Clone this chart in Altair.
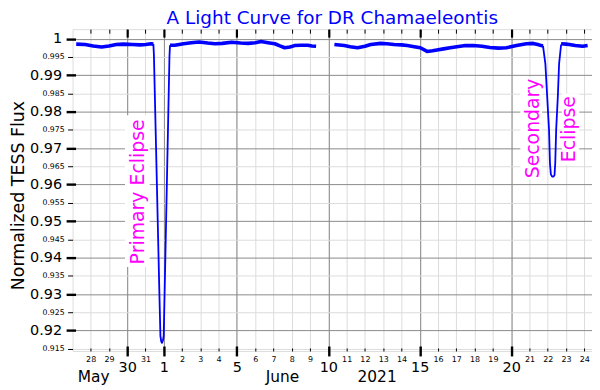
import altair as alt
import pandas as pd

# ---------------- data (day: days counted from 31 May 2021, so 1 = 1 June) -------------
pre_days = [-3.79, -3.3, -2.86, -2.4, -2.0, -1.6, -1.2, -0.7, -0.3, 0.02, 0.3, 0.43]
pre_flux = [0.9985, 0.9984, 0.9980, 0.9977, 0.9980, 0.9984, 0.9985, 0.9984, 0.9983, 0.9984, 0.9986, 0.9985]

prim_days = [0.43, 0.46, 0.55, 0.65, 0.75, 0.815, 0.86, 0.90, 0.95, 0.995, 1.08, 1.16, 1.24, 1.31, 1.34]
prim_flux = [0.9985, 0.9955, 0.9759, 0.9540, 0.9321, 0.9185, 0.9170, 0.9166, 0.9172, 0.9185, 0.9387, 0.9583, 0.9779, 0.9951, 0.9982]

mid_days = [1.34, 1.6, 2.08, 2.5, 2.93, 3.4, 3.8, 4.2, 4.71, 5.2, 5.61, 6.0, 6.32, 6.7,
            7.07, 7.35, 7.61, 7.9, 8.15, 8.5, 8.88, 9.1, 9.33]
mid_flux = [0.9982, 0.9982, 0.9986, 0.9989, 0.9991, 0.9988, 0.9986, 0.9987, 0.9990, 0.9988, 0.9987, 0.9989,
            0.9992, 0.9989, 0.9986, 0.9980, 0.9975, 0.9977, 0.9981, 0.9982, 0.9982, 0.9980, 0.9979]

late_days = [10.33, 10.87, 11.2, 11.6, 12.0, 12.32, 12.86, 13.2, 13.59, 14.0, 14.32, 14.7, 15.03, 15.4,
             15.7, 15.94, 16.3, 16.66, 17.03, 17.5, 17.93, 18.4, 18.84, 19.3, 19.74, 20.29, 20.83,
             21.2, 21.45, 21.65, 21.74]
late_flux = [0.9984, 0.9981, 0.9978, 0.9975, 0.9979, 0.9984, 0.9987, 0.9986, 0.9984, 0.9983, 0.9981, 0.9978,
             0.9975, 0.9965, 0.9967, 0.9969, 0.9972, 0.9975, 0.9978, 0.9981, 0.9981, 0.9979, 0.9976, 0.9974,
             0.9975, 0.9981, 0.9986, 0.9987, 0.9984, 0.9981, 0.9980]

sec_days = [21.74, 21.87, 21.97, 22.07, 22.12, 22.17, 22.24, 22.32, 22.37, 22.41, 22.46, 22.55, 22.62, 22.73]
sec_flux = [0.9980, 0.9931, 0.9840, 0.9750, 0.9659, 0.9628, 0.9622, 0.9622, 0.9626, 0.9659, 0.9750, 0.9840, 0.9931, 0.9984]

post_days = [22.73, 23.0, 23.18, 23.5, 23.91, 24.18]
post_flux = [0.9986, 0.9985, 0.9984, 0.9981, 0.9979, 0.9981]

minor_days = list(range(-3, 25))
major_days = [-1, 1, 5, 10, 15, 20]
month_names = ["May", "June", "2021"]
month_pos = [-2.86, 7.46, 12.64]

y_major = [0.92, 0.93, 0.94, 0.95, 0.96, 0.97, 0.98, 0.99, 1.0]
y_minor = [0.915, 0.925, 0.935, 0.945, 0.955, 0.965, 0.975, 0.985, 0.995]

notes = ["Primary Eclipse", "Secondary", "Eclipse"]
note_day = [-0.43, 21.20, 23.14]
note_flux = [0.9580, 0.9754, 0.9752]
box_d1 = [-1.12, 20.50, 22.77]
box_d2 = [0.23, 21.68, 23.72]
box_f1 = [0.9374, 0.9614, 0.9654]
box_f2 = [0.9790, 0.9895, 0.9850]

# ---------------- tables ----------------
def seg(name, d, f):
    return pd.DataFrame({"day": d, "flux": f, "segment": name})

base_df = pd.concat([seg("pre", pre_days, pre_flux), seg("mid", mid_days, mid_flux),
                     seg("late", late_days, late_flux), seg("post", post_days, post_flux)])
ecl_df = pd.concat([seg("prim", prim_days, prim_flux), seg("sec", sec_days, sec_flux)])
note_df = pd.DataFrame({"text": notes, "day": note_day, "flux": note_flux})
box_df = pd.DataFrame({"d1": box_d1, "d2": box_d2, "f1": box_f1, "f2": box_f2})
anchor = pd.DataFrame({"day": [5.0], "flux": [0.99]})

FONT = "DejaVu Sans"
xs = alt.Scale(domain=[-3.99, 24.42], nice=False, zero=False)
ys = alt.Scale(domain=[0.9144, 1.0026], nice=False, zero=False)
dom = "datum.value <= 0 ? datum.value + 31 : datum.value"
major_str = "[" + ",".join(str(v) for v in major_days) + "]"
month_expr = "".join(
    f"abs(datum.value - ({p})) < 0.01 ? '{n}' : " for p, n in zip(month_pos, month_names)) + "''"

LIGHT = "#dcdcdc"
DARK = "#8a8a8a"


def xaxis(**kw):
    base = dict(title=None, domain=False, labelFlush=False, labelOverlap=False,
                labelFont=FONT, labelColor="black", tickColor="black", grid=False)
    base.update(kw)
    return alt.Axis(**base)


def yaxis(**kw):
    base = dict(title=None, domain=False, labelFlush=False, labelOverlap=False,
                labelFont=FONT, labelColor="black", tickColor="black", grid=False, orient="left")
    base.update(kw)
    return alt.Axis(**base)


x_axes = [
    xaxis(orient="bottom", values=minor_days, grid=True, gridColor=LIGHT, gridWidth=1, ticks=False,
          labelFontSize=8, labelPadding=5,
          labelExpr=f"indexof({major_str}, datum.value) >= 0 ? '' : ({dom})"),
    xaxis(orient="bottom", values=major_days, grid=True, gridColor=DARK, gridWidth=1, ticks=False,
          labelFontSize=14.5, labelPadding=9.5, labelExpr=dom),
    xaxis(orient="bottom", values=month_pos, ticks=False, labelFontSize=15.5, labelPadding=19,
          labelExpr=month_expr),
    xaxis(orient="bottom", values=minor_days, labels=False, offset=-3, tickSize=3, tickWidth=1),
    xaxis(orient="bottom", values=major_days, labels=False, offset=-5, tickSize=10, tickWidth=2.4),
    xaxis(orient="top", values=minor_days, labels=False, offset=-4, tickSize=4, tickWidth=1),
    xaxis(orient="top", values=major_days, labels=False, offset=-8, tickSize=8, tickWidth=2.2),
]
y_axes = [
    yaxis(values=y_minor, grid=True, gridColor=LIGHT, gridWidth=1, ticks=False, format=".3f",
          labelFontSize=7.8, labelPadding=8.5),
    yaxis(values=y_major, grid=True, gridColor=DARK, gridWidth=1, ticks=False, format="~g",
          labelFontSize=14.5, labelPadding=11,
          title="Normalized TESS Flux", titleFont=FONT, titleFontSize=17.5, titleFontWeight="normal",
          titleColor="black", titleAngle=270, titleX=-54, titleY=167, titleAlign="center",
          titleBaseline="middle"),
    yaxis(values=y_minor, labels=False, tickSize=5, tickWidth=1),
    yaxis(values=y_major, labels=False, offset=-3, tickSize=9.5, tickWidth=2.4),
]

layers = []
for i, ax in enumerate(x_axes):
    yax = y_axes[i] if i < len(y_axes) else None
    layers.append(
        alt.Chart(anchor).mark_point(opacity=0).encode(
            x=alt.X("day:Q", scale=xs, axis=ax),
            y=alt.Y("flux:Q", scale=ys, axis=yax),
        )
    )

boxes = alt.Chart(box_df).mark_rect(color="white").encode(
    x=alt.X("d1:Q", scale=xs, axis=None), x2="d2:Q",
    y=alt.Y("f1:Q", scale=ys, axis=None), y2="f2:Q",
)
base_line = alt.Chart(base_df).mark_line(color="#0000ff", strokeWidth=3.6, strokeJoin="round").encode(
    x=alt.X("day:Q", scale=xs, axis=None), y=alt.Y("flux:Q", scale=ys, axis=None), detail="segment:N",
)
ecl_line = alt.Chart(ecl_df).mark_line(color="#0000ff", strokeWidth=1.8, strokeJoin="round").encode(
    x=alt.X("day:Q", scale=xs, axis=None), y=alt.Y("flux:Q", scale=ys, axis=None), detail="segment:N",
)
texts = alt.Chart(note_df).mark_text(angle=270, fontSize=19, font=FONT, color="#ff00ff",
                                     align="center", baseline="middle").encode(
    x=alt.X("day:Q", scale=xs, axis=None), y=alt.Y("flux:Q", scale=ys, axis=None), text="text:N",
)

chart = alt.layer(*layers, boxes, base_line, ecl_line, texts).resolve_axis(
    x="independent", y="independent"
).properties(
    width=523, height=324,
    title=alt.TitleParams("A Light Curve for DR Chamaeleontis", color="#0000ff", fontSize=18.5,
                          font=FONT, fontWeight="normal", anchor="middle", frame="group",
                          baseline="alphabetic", offset=6, dy=20.5),
    autosize=alt.AutoSizeParams(type="none"),
    padding={"left": 65, "top": 20, "right": 0, "bottom": 40},
).configure_view(stroke="black", strokeWidth=2.4).configure(background="white")

chart.save("out.html", embed_options={"renderer": "svg", "actions": False})
